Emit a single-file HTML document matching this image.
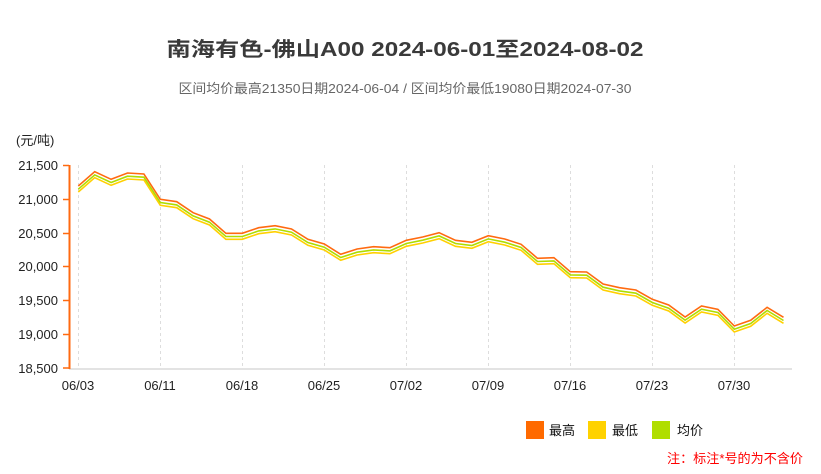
<!DOCTYPE html>
<html><head><meta charset="utf-8"><style>
body{margin:0;background:#fff;}
svg{display:block;font-family:"Liberation Sans","Noto Sans CJK SC",sans-serif;}
</style></head><body>
<svg width="821" height="474" viewBox="0 0 821 474" xmlns="http://www.w3.org/2000/svg">
<text x="405" y="56" text-anchor="middle" font-size="20" font-weight="bold" fill="#3a3a3a" textLength="477" lengthAdjust="spacingAndGlyphs">南海有色-佛山A00 2024-06-01至2024-08-02</text>
<text x="405" y="93" text-anchor="middle" font-size="13" fill="#666" textLength="453" lengthAdjust="spacingAndGlyphs">区间均价最高21350日期2024-06-04 / 区间均价最低19080日期2024-07-30</text>
<text x="16" y="145" font-size="13" fill="#222">(元/吨)</text>
<g stroke="#ddd" stroke-dasharray="3,3" stroke-width="1">
<line x1="78.5" y1="165" x2="78.5" y2="368"/><line x1="160.5" y1="165" x2="160.5" y2="368"/><line x1="242.5" y1="165" x2="242.5" y2="368"/><line x1="324.5" y1="165" x2="324.5" y2="368"/><line x1="406.5" y1="165" x2="406.5" y2="368"/><line x1="488.5" y1="165" x2="488.5" y2="368"/><line x1="570.5" y1="165" x2="570.5" y2="368"/><line x1="652.5" y1="165" x2="652.5" y2="368"/><line x1="734.5" y1="165" x2="734.5" y2="368"/>
</g>
<line x1="69" y1="369" x2="792" y2="369" stroke="#e3e3e3" stroke-width="2"/>
<line x1="69.5" y1="165" x2="69.5" y2="369" stroke="#ff6a10" stroke-width="2"/>
<g stroke="#ff6a10" stroke-width="1.5">
<line x1="63" y1="165.5" x2="69" y2="165.5"/><line x1="63" y1="199.5" x2="69" y2="199.5"/><line x1="63" y1="233.5" x2="69" y2="233.5"/><line x1="63" y1="266.5" x2="69" y2="266.5"/><line x1="63" y1="300.5" x2="69" y2="300.5"/><line x1="63" y1="334.5" x2="69" y2="334.5"/><line x1="63" y1="368" x2="69" y2="368"/>
</g>
<g font-size="13" fill="#222" text-anchor="end">
<text x="58" y="170">21,500</text><text x="58" y="204">21,000</text><text x="58" y="238">20,500</text><text x="58" y="271">20,000</text><text x="58" y="305">19,500</text><text x="58" y="339">19,000</text><text x="58" y="373">18,500</text>
</g>
<g font-size="13" fill="#222" text-anchor="middle">
<text x="78" y="390">06/03</text><text x="160" y="390">06/11</text><text x="242" y="390">06/18</text><text x="324" y="390">06/25</text><text x="406" y="390">07/02</text><text x="488" y="390">07/09</text><text x="570" y="390">07/16</text><text x="652" y="390">07/23</text><text x="734" y="390">07/30</text>
</g>
<defs>
<polyline id="ln" fill="none" points="78.3,186 94.7,171.7 111.1,179.3 127.5,173 143.9,174 160.3,199.3 176.7,201.7 193.1,212.7 209.5,219 225.9,233.3 242.3,233.3 258.7,227.7 275.1,225.7 291.5,229 307.9,239.3 324.3,244 340.7,254.3 357.1,249 373.5,246.7 389.9,247.7 406.3,240.3 422.7,237 439.1,232.7 455.5,240.3 471.9,242.3 488.3,235.7 504.7,239 521.1,244.3 537.5,258.3 553.9,257.7 570.3,271.7 586.7,272 603.1,284 619.5,287.7 635.9,290 652.3,299.3 668.7,305 685.1,317 701.5,306 717.9,309.3 734.3,326 750.7,320.3 767.1,307.3 783.5,317.3"/>
</defs>
<use href="#ln" transform="translate(0,6)" stroke="#ffd000" stroke-width="1.6"/>
<use href="#ln" transform="translate(0,3.2)" stroke="#aedd00" stroke-width="1.6"/>
<use href="#ln" stroke="#ff6a10" stroke-width="1.6"/>
<rect x="526" y="421" width="18" height="18" fill="#ff6a00"/>
<text x="549" y="435" font-size="13" fill="#111">最高</text>
<rect x="588" y="421" width="18" height="18" fill="#ffd200"/>
<text x="612" y="435" font-size="13" fill="#111">最低</text>
<rect x="652" y="421" width="18" height="18" fill="#b0de00"/>
<text x="677" y="435" font-size="13" fill="#111">均价</text>
<text x="667" y="463" font-size="13" fill="#f00" textLength="136" lengthAdjust="spacingAndGlyphs">注：标注*号的为不含价</text>
</svg>
</body></html>
